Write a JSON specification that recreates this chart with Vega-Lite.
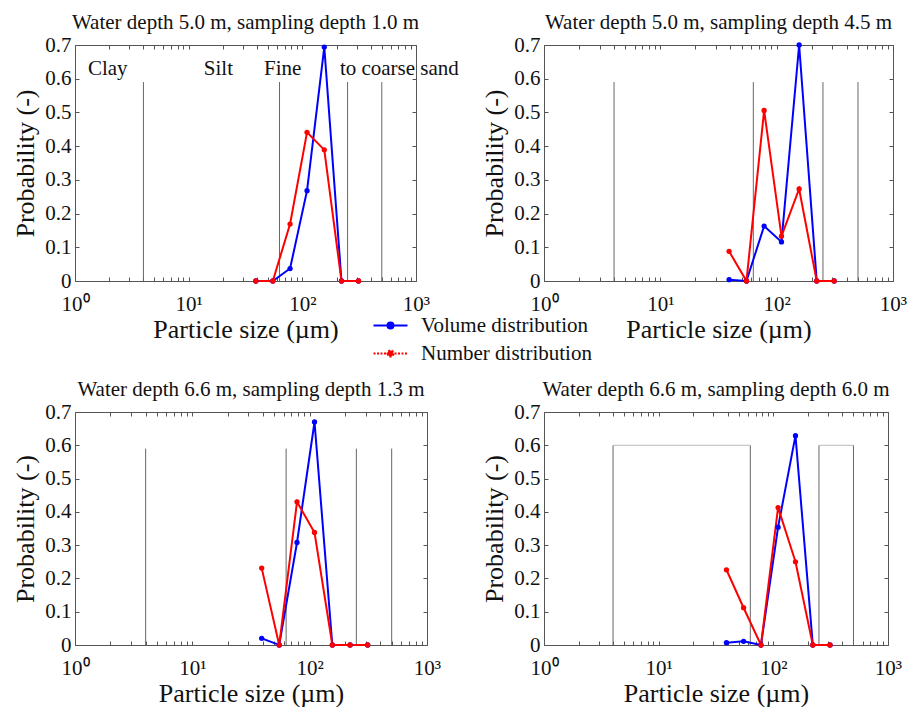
{
  "$schema": "https://vega.github.io/schema/vega-lite/v6.json",
  "padding": {"left": 12, "top": 11, "right": 0, "bottom": 0},
  "autosize": {"type": "pad"},
  "background": "white",
  "config": {
    "view": {"stroke": "#555", "strokeWidth": 1},
    "font": "Liberation Serif",
    "axis": {"labelFont": "Liberation Serif", "labelFontSize": 21, "labelColor": "#111", "titleFont": "Liberation Serif", "titleFontSize": 26, "titleFontWeight": "normal", "titleColor": "#111", "tickColor": "#555", "grid": false, "domain": false},
    "title": {"font": "Liberation Serif", "fontSize": 21, "fontWeight": "normal", "color": "#111", "baseline": "alphabetic", "offset": 1}
  },
  "datasets": {
    "pts": [
      {"p": 1, "s": "Volume distribution", "x": 39, "y": 0},
      {"p": 1, "s": "Volume distribution", "x": 55, "y": 0},
      {"p": 1, "s": "Volume distribution", "x": 78, "y": 0.037},
      {"p": 1, "s": "Volume distribution", "x": 110, "y": 0.268},
      {"p": 1, "s": "Volume distribution", "x": 156, "y": 0.694},
      {"p": 1, "s": "Volume distribution", "x": 221, "y": 0},
      {"p": 1, "s": "Volume distribution", "x": 312, "y": 0},
      {"p": 1, "s": "Number distribution", "x": 39, "y": 0},
      {"p": 1, "s": "Number distribution", "x": 55, "y": 0},
      {"p": 1, "s": "Number distribution", "x": 78, "y": 0.169},
      {"p": 1, "s": "Number distribution", "x": 110, "y": 0.441},
      {"p": 1, "s": "Number distribution", "x": 156, "y": 0.389},
      {"p": 1, "s": "Number distribution", "x": 221, "y": 0},
      {"p": 1, "s": "Number distribution", "x": 312, "y": 0},
      {"p": 2, "s": "Volume distribution", "x": 39, "y": 0.004},
      {"p": 2, "s": "Volume distribution", "x": 55, "y": 0},
      {"p": 2, "s": "Volume distribution", "x": 78, "y": 0.163},
      {"p": 2, "s": "Volume distribution", "x": 110, "y": 0.116},
      {"p": 2, "s": "Volume distribution", "x": 156, "y": 0.7},
      {"p": 2, "s": "Volume distribution", "x": 221, "y": 0},
      {"p": 2, "s": "Volume distribution", "x": 312, "y": 0},
      {"p": 2, "s": "Number distribution", "x": 39, "y": 0.088},
      {"p": 2, "s": "Number distribution", "x": 55, "y": 0},
      {"p": 2, "s": "Number distribution", "x": 78, "y": 0.506},
      {"p": 2, "s": "Number distribution", "x": 110, "y": 0.133},
      {"p": 2, "s": "Number distribution", "x": 156, "y": 0.273},
      {"p": 2, "s": "Number distribution", "x": 221, "y": 0},
      {"p": 2, "s": "Number distribution", "x": 312, "y": 0},
      {"p": 3, "s": "Volume distribution", "x": 39, "y": 0.02},
      {"p": 3, "s": "Volume distribution", "x": 55, "y": 0},
      {"p": 3, "s": "Volume distribution", "x": 78, "y": 0.308},
      {"p": 3, "s": "Volume distribution", "x": 110, "y": 0.67},
      {"p": 3, "s": "Volume distribution", "x": 156, "y": 0},
      {"p": 3, "s": "Volume distribution", "x": 221, "y": 0},
      {"p": 3, "s": "Volume distribution", "x": 312, "y": 0},
      {"p": 3, "s": "Number distribution", "x": 39, "y": 0.231},
      {"p": 3, "s": "Number distribution", "x": 55, "y": 0},
      {"p": 3, "s": "Number distribution", "x": 78, "y": 0.43},
      {"p": 3, "s": "Number distribution", "x": 110, "y": 0.338},
      {"p": 3, "s": "Number distribution", "x": 156, "y": 0},
      {"p": 3, "s": "Number distribution", "x": 221, "y": 0},
      {"p": 3, "s": "Number distribution", "x": 312, "y": 0},
      {"p": 4, "s": "Volume distribution", "x": 39, "y": 0.007},
      {"p": 4, "s": "Volume distribution", "x": 55, "y": 0.011},
      {"p": 4, "s": "Volume distribution", "x": 78, "y": 0},
      {"p": 4, "s": "Volume distribution", "x": 110, "y": 0.354},
      {"p": 4, "s": "Volume distribution", "x": 156, "y": 0.629},
      {"p": 4, "s": "Volume distribution", "x": 221, "y": 0},
      {"p": 4, "s": "Volume distribution", "x": 312, "y": 0},
      {"p": 4, "s": "Number distribution", "x": 39, "y": 0.226},
      {"p": 4, "s": "Number distribution", "x": 55, "y": 0.112},
      {"p": 4, "s": "Number distribution", "x": 78, "y": 0},
      {"p": 4, "s": "Number distribution", "x": 110, "y": 0.413},
      {"p": 4, "s": "Number distribution", "x": 156, "y": 0.25},
      {"p": 4, "s": "Number distribution", "x": 221, "y": 0},
      {"p": 4, "s": "Number distribution", "x": 312, "y": 0}
    ],
    "bnd": [
      {"p": 1, "x": 4, "top": 0.59}, {"p": 1, "x": 63, "top": 0.59}, {"p": 1, "x": 250, "top": 0.59}, {"p": 1, "x": 500, "top": 0.59},
      {"p": 2, "x": 4, "top": 0.59}, {"p": 2, "x": 63, "top": 0.59}, {"p": 2, "x": 250, "top": 0.59}, {"p": 2, "x": 500, "top": 0.59},
      {"p": 3, "x": 4, "top": 0.59}, {"p": 3, "x": 63, "top": 0.59}, {"p": 3, "x": 250, "top": 0.59}, {"p": 3, "x": 500, "top": 0.59},
      {"p": 4, "x": 4, "top": 0.6}, {"p": 4, "x": 63, "top": 0.6}, {"p": 4, "x": 250, "top": 0.6}, {"p": 4, "x": 500, "top": 0.6}
    ],
    "tops": [
      {"x": 4, "x2": 63, "y": 0.6},
      {"x": 250, "x2": 500, "y": 0.6}
    ],
    "ann": [
      {"label": "Clay", "x": 1.3, "y": 0.61},
      {"label": "Silt", "x": 13.6, "y": 0.61},
      {"label": "Fine", "x": 46, "y": 0.61},
      {"label": "to coarse sand", "x": 214, "y": 0.61}
    ]
  },
  "columns": 2,
  "bounds": "flush",
  "spacing": {"row": 131, "column": 117},
  "concat": [
    {
      "width": 341, "height": 236,
      "title": "Water depth 5.0 m, sampling depth 1.0 m",
      "layer": [
        {"data": {"name": "bnd"}, "transform": [{"filter": "datum.p == 1"}],
         "mark": {"type": "rule", "color": "#666", "strokeWidth": 1},
         "encoding": {
           "x": {"field": "x", "type": "quantitative", "scale": {"type": "log", "domain": [1, 1000], "nice": false},
                 "axis": {"orient": "bottom", "values": [1,2,3,4,5,6,7,8,9,10,20,30,40,50,60,70,80,90,100,200,300,400,500,600,700,800,900,1000], "labelExpr": "datum.value == 1 ? '10⁰' : datum.value == 10 ? '10¹' : datum.value == 100 ? '10²' : datum.value == 1000 ? '10³' : ''", "tickSize": -4, "labelPadding": 16, "labelOverlap": false, "labelFlush": false, "labelBound": false, "title": "Particle size (µm)", "titlePadding": 2}},
           "y": {"field": "top", "type": "quantitative", "scale": {"domain": [0, 0.7], "nice": false},
                 "axis": {"orient": "left", "values": [0,0.1,0.2,0.3,0.4,0.5,0.6,0.7], "labelExpr": "datum.value == 0 ? '0' : format(datum.value, '.1f')", "tickSize": -4, "labelPadding": 8, "labelOverlap": false, "labelBound": false, "title": "Probability (-)", "titlePadding": 6}},
           "y2": {"datum": 0}
         }},
        {"data": {"name": "pts"}, "transform": [{"filter": "datum.p == 1"}],
         "mark": {"type": "line", "strokeWidth": 2, "point": {"filled": true, "size": 28}},
         "encoding": {
           "x": {"field": "x", "type": "quantitative", "scale": {"type": "log", "domain": [1, 1000], "nice": false},
                 "axis": {"orient": "top", "values": [1,2,3,4,5,6,7,8,9,10,20,30,40,50,60,70,80,90,100,200,300,400,500,600,700,800,900,1000], "labels": false, "tickSize": -4, "title": null}},
           "y": {"field": "y", "type": "quantitative", "scale": {"domain": [0, 0.7], "nice": false},
                 "axis": {"orient": "right", "values": [0,0.1,0.2,0.3,0.4,0.5,0.6,0.7], "labels": false, "tickSize": -4, "title": null}},
           "color": {"field": "s", "type": "nominal", "scale": {"domain": ["Volume distribution", "Number distribution"], "range": ["#0000ff", "#ff0000"]},
                     "legend": {"title": null, "orient": "none", "legendX": 305, "legendY": 270, "padding": 0, "symbolType": "M-2,0L2,0M-0.35,0a0.35,0.35 0 1,0 0.7,0a0.35,0.35 0 1,0 -0.7,0", "symbolSize": 289, "symbolStrokeWidth": 2, "labelFont": "Liberation Serif", "labelFontSize": 21, "labelColor": "#111", "labelOffset": 20, "rowPadding": 6, "labelLimit": 400,
                                "encode": {"symbols": {"update": {"fill": {"scale": "color", "field": "value"}, "strokeDash": [{"test": "datum.value === 'Number distribution'", "value": [2, 1.5]}, {"value": []}]}}}}}
         }},
        {"data": {"name": "ann"},
         "mark": {"type": "text", "align": "left", "baseline": "alphabetic", "font": "Liberation Serif", "fontSize": 21, "color": "#111"},
         "encoding": {
           "x": {"field": "x", "type": "quantitative", "scale": {"type": "log", "domain": [1, 1000], "nice": false}, "axis": null},
           "y": {"field": "y", "type": "quantitative", "scale": {"domain": [0, 0.7], "nice": false}, "axis": null},
           "text": {"field": "label"}
         }}
      ],
      "resolve": {"axis": {"x": "independent", "y": "independent"}}
    },
    {
      "width": 349, "height": 236,
      "title": "Water depth 5.0 m, sampling depth 4.5 m",
      "layer": [
        {"data": {"name": "bnd"}, "transform": [{"filter": "datum.p == 2"}],
         "mark": {"type": "rule", "color": "#666", "strokeWidth": 1},
         "encoding": {
           "x": {"field": "x", "type": "quantitative", "scale": {"type": "log", "domain": [1, 1000], "nice": false},
                 "axis": {"orient": "bottom", "values": [1,2,3,4,5,6,7,8,9,10,20,30,40,50,60,70,80,90,100,200,300,400,500,600,700,800,900,1000], "labelExpr": "datum.value == 1 ? '10⁰' : datum.value == 10 ? '10¹' : datum.value == 100 ? '10²' : datum.value == 1000 ? '10³' : ''", "tickSize": -4, "labelPadding": 16, "labelOverlap": false, "labelFlush": false, "labelBound": false, "title": "Particle size (µm)", "titlePadding": 2}},
           "y": {"field": "top", "type": "quantitative", "scale": {"domain": [0, 0.7], "nice": false},
                 "axis": {"orient": "left", "values": [0,0.1,0.2,0.3,0.4,0.5,0.6,0.7], "labelExpr": "datum.value == 0 ? '0' : format(datum.value, '.1f')", "tickSize": -4, "labelPadding": 8, "labelOverlap": false, "labelBound": false, "title": "Probability (-)", "titlePadding": 6}},
           "y2": {"datum": 0}
         }},
        {"data": {"name": "pts"}, "transform": [{"filter": "datum.p == 2"}],
         "mark": {"type": "line", "strokeWidth": 2, "point": {"filled": true, "size": 28}},
         "encoding": {
           "x": {"field": "x", "type": "quantitative", "scale": {"type": "log", "domain": [1, 1000], "nice": false},
                 "axis": {"orient": "top", "values": [1,2,3,4,5,6,7,8,9,10,20,30,40,50,60,70,80,90,100,200,300,400,500,600,700,800,900,1000], "labels": false, "tickSize": -4, "title": null}},
           "y": {"field": "y", "type": "quantitative", "scale": {"domain": [0, 0.7], "nice": false},
                 "axis": {"orient": "right", "values": [0,0.1,0.2,0.3,0.4,0.5,0.6,0.7], "labels": false, "tickSize": -4, "title": null}},
           "color": {"field": "s", "type": "nominal", "scale": {"domain": ["Volume distribution", "Number distribution"], "range": ["#0000ff", "#ff0000"]},
                     "legend": {"title": null, "orient": "none", "legendX": 305, "legendY": 270, "padding": 0, "symbolType": "M-2,0L2,0M-0.35,0a0.35,0.35 0 1,0 0.7,0a0.35,0.35 0 1,0 -0.7,0", "symbolSize": 289, "symbolStrokeWidth": 2, "labelFont": "Liberation Serif", "labelFontSize": 21, "labelColor": "#111", "labelOffset": 20, "rowPadding": 6, "labelLimit": 400,
                                "encode": {"symbols": {"update": {"fill": {"scale": "color", "field": "value"}, "strokeDash": [{"test": "datum.value === 'Number distribution'", "value": [2, 1.5]}, {"value": []}]}}}}}
         }}
      ],
      "resolve": {"axis": {"x": "independent", "y": "independent"}}
    },
    {
      "width": 352, "height": 233,
      "title": "Water depth 6.6 m, sampling depth 1.3 m",
      "layer": [
        {"data": {"name": "bnd"}, "transform": [{"filter": "datum.p == 3"}],
         "mark": {"type": "rule", "color": "#666", "strokeWidth": 1},
         "encoding": {
           "x": {"field": "x", "type": "quantitative", "scale": {"type": "log", "domain": [1, 1000], "nice": false},
                 "axis": {"orient": "bottom", "values": [1,2,3,4,5,6,7,8,9,10,20,30,40,50,60,70,80,90,100,200,300,400,500,600,700,800,900,1000], "labelExpr": "datum.value == 1 ? '10⁰' : datum.value == 10 ? '10¹' : datum.value == 100 ? '10²' : datum.value == 1000 ? '10³' : ''", "tickSize": -4, "labelPadding": 16, "labelOverlap": false, "labelFlush": false, "labelBound": false, "title": "Particle size (µm)", "titlePadding": 2}},
           "y": {"field": "top", "type": "quantitative", "scale": {"domain": [0, 0.7], "nice": false},
                 "axis": {"orient": "left", "values": [0,0.1,0.2,0.3,0.4,0.5,0.6,0.7], "labelExpr": "datum.value == 0 ? '0' : format(datum.value, '.1f')", "tickSize": -4, "labelPadding": 8, "labelOverlap": false, "labelBound": false, "title": "Probability (-)", "titlePadding": 6}},
           "y2": {"datum": 0}
         }},
        {"data": {"name": "pts"}, "transform": [{"filter": "datum.p == 3"}],
         "mark": {"type": "line", "strokeWidth": 2, "point": {"filled": true, "size": 28}},
         "encoding": {
           "x": {"field": "x", "type": "quantitative", "scale": {"type": "log", "domain": [1, 1000], "nice": false},
                 "axis": {"orient": "top", "values": [1,2,3,4,5,6,7,8,9,10,20,30,40,50,60,70,80,90,100,200,300,400,500,600,700,800,900,1000], "labels": false, "tickSize": -4, "title": null}},
           "y": {"field": "y", "type": "quantitative", "scale": {"domain": [0, 0.7], "nice": false},
                 "axis": {"orient": "right", "values": [0,0.1,0.2,0.3,0.4,0.5,0.6,0.7], "labels": false, "tickSize": -4, "title": null}},
           "color": {"field": "s", "type": "nominal", "scale": {"domain": ["Volume distribution", "Number distribution"], "range": ["#0000ff", "#ff0000"]},
                     "legend": {"title": null, "orient": "none", "legendX": 305, "legendY": 270, "padding": 0, "symbolType": "M-2,0L2,0M-0.35,0a0.35,0.35 0 1,0 0.7,0a0.35,0.35 0 1,0 -0.7,0", "symbolSize": 289, "symbolStrokeWidth": 2, "labelFont": "Liberation Serif", "labelFontSize": 21, "labelColor": "#111", "labelOffset": 20, "rowPadding": 6, "labelLimit": 400,
                                "encode": {"symbols": {"update": {"fill": {"scale": "color", "field": "value"}, "strokeDash": [{"test": "datum.value === 'Number distribution'", "value": [2, 1.5]}, {"value": []}]}}}}}
         }}
      ],
      "resolve": {"axis": {"x": "independent", "y": "independent"}}
    },
    {
      "width": 344, "height": 233,
      "title": "Water depth 6.6 m, sampling depth 6.0 m",
      "layer": [
        {"data": {"name": "bnd"}, "transform": [{"filter": "datum.p == 4"}],
         "mark": {"type": "rule", "color": "#666", "strokeWidth": 1},
         "encoding": {
           "x": {"field": "x", "type": "quantitative", "scale": {"type": "log", "domain": [1, 1000], "nice": false},
                 "axis": {"orient": "bottom", "values": [1,2,3,4,5,6,7,8,9,10,20,30,40,50,60,70,80,90,100,200,300,400,500,600,700,800,900,1000], "labelExpr": "datum.value == 1 ? '10⁰' : datum.value == 10 ? '10¹' : datum.value == 100 ? '10²' : datum.value == 1000 ? '10³' : ''", "tickSize": -4, "labelPadding": 16, "labelOverlap": false, "labelFlush": false, "labelBound": false, "title": "Particle size (µm)", "titlePadding": 2}},
           "y": {"field": "top", "type": "quantitative", "scale": {"domain": [0, 0.7], "nice": false},
                 "axis": {"orient": "left", "values": [0,0.1,0.2,0.3,0.4,0.5,0.6,0.7], "labelExpr": "datum.value == 0 ? '0' : format(datum.value, '.1f')", "tickSize": -4, "labelPadding": 8, "labelOverlap": false, "labelBound": false, "title": "Probability (-)", "titlePadding": 6}},
           "y2": {"datum": 0}
         }},
        {"data": {"name": "tops"},
         "mark": {"type": "rule", "color": "#bbb", "strokeWidth": 1},
         "encoding": {
           "x": {"field": "x", "type": "quantitative", "scale": {"type": "log", "domain": [1, 1000], "nice": false}, "axis": null},
           "x2": {"field": "x2"},
           "y": {"field": "y", "type": "quantitative", "scale": {"domain": [0, 0.7], "nice": false}, "axis": null}
         }},
        {"data": {"name": "pts"}, "transform": [{"filter": "datum.p == 4"}],
         "mark": {"type": "line", "strokeWidth": 2, "point": {"filled": true, "size": 28}},
         "encoding": {
           "x": {"field": "x", "type": "quantitative", "scale": {"type": "log", "domain": [1, 1000], "nice": false},
                 "axis": {"orient": "top", "values": [1,2,3,4,5,6,7,8,9,10,20,30,40,50,60,70,80,90,100,200,300,400,500,600,700,800,900,1000], "labels": false, "tickSize": -4, "title": null}},
           "y": {"field": "y", "type": "quantitative", "scale": {"domain": [0, 0.7], "nice": false},
                 "axis": {"orient": "right", "values": [0,0.1,0.2,0.3,0.4,0.5,0.6,0.7], "labels": false, "tickSize": -4, "title": null}},
           "color": {"field": "s", "type": "nominal", "scale": {"domain": ["Volume distribution", "Number distribution"], "range": ["#0000ff", "#ff0000"]},
                     "legend": {"title": null, "orient": "none", "legendX": 305, "legendY": 270, "padding": 0, "symbolType": "M-2,0L2,0M-0.35,0a0.35,0.35 0 1,0 0.7,0a0.35,0.35 0 1,0 -0.7,0", "symbolSize": 289, "symbolStrokeWidth": 2, "labelFont": "Liberation Serif", "labelFontSize": 21, "labelColor": "#111", "labelOffset": 20, "rowPadding": 6, "labelLimit": 400,
                                "encode": {"symbols": {"update": {"fill": {"scale": "color", "field": "value"}, "strokeDash": [{"test": "datum.value === 'Number distribution'", "value": [2, 1.5]}, {"value": []}]}}}}}
         }}
      ],
      "resolve": {"axis": {"x": "independent", "y": "independent"}}
    }
  ]
}
